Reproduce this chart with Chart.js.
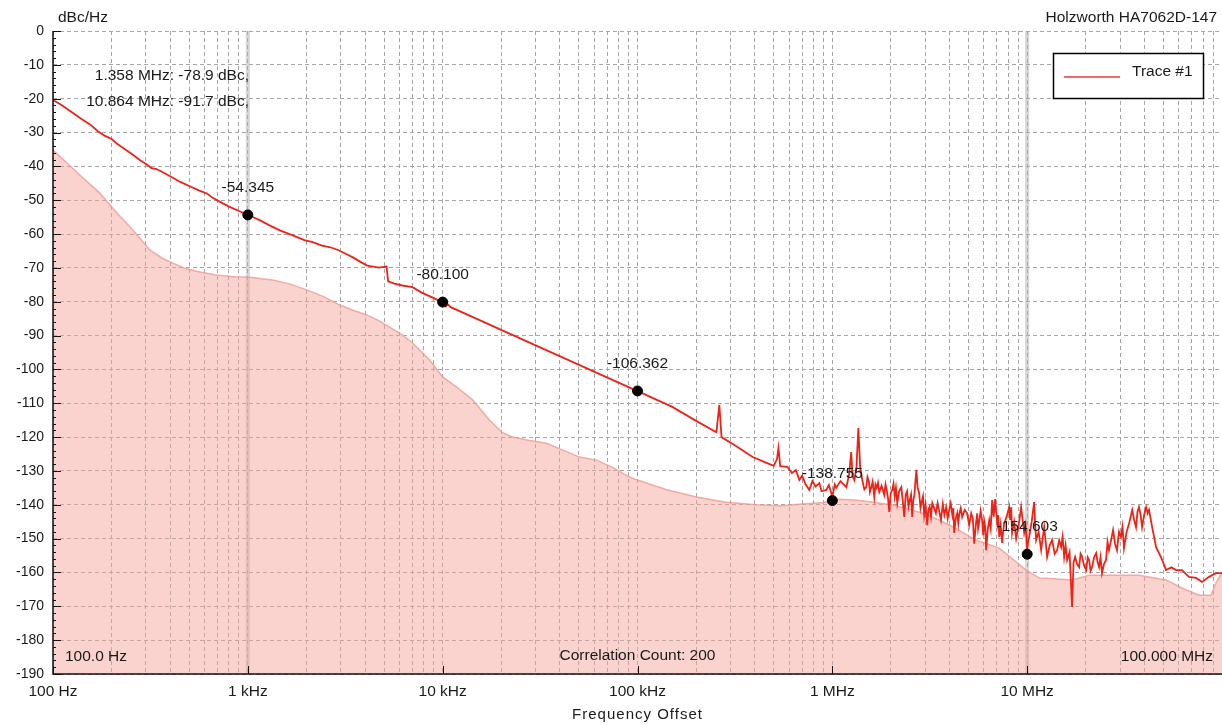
<!DOCTYPE html>
<html>
<head>
<meta charset="utf-8">
<script src="https://cdn.jsdelivr.net/npm/chart.js@4.4.1/dist/chart.umd.min.js"></script>
<style>
html,body{margin:0;padding:0;background:#fff;}
#wrap{width:1222px;height:725px;}
</style>
</head>
<body>
<div id="wrap"><canvas id="c" width="1222" height="725"></canvas></div>
<script>
// ---------- DATA ----------
const xTickValues = [100, 1000, 10000, 100000, 1000000, 10000000];
const xTickLabels = ['100 Hz', '1 kHz', '10 kHz', '100 kHz', '1 MHz', '10 MHz'];

// measured phase-noise trace: [offset Hz, dBc/Hz]
const traceSamples = [
  [100, -20.4], [110, -21.8], [125, -24.0], [140, -26.0], [155, -27.6], [170, -29.6], [185, -31.0], [200, -31.9],
  [215, -33.5], [235, -35.0], [255, -36.4], [280, -38.2], [300, -39.3], [320, -40.5], [340, -40.8], [370, -41.9],
  [410, -43.3], [450, -44.6], [500, -45.8], [560, -47.1], [620, -48.1], [660, -49.3], [720, -50.5], [800, -51.9],
  [900, -53.2], [1000, -54.3], [1150, -55.9], [1300, -57.5], [1460, -58.9], [1700, -60.4], [1950, -61.8], [2150, -62.4],
  [2400, -63.4], [2650, -63.9], [2900, -64.7], [3200, -65.9], [3460, -66.9], [3800, -68.3], [4100, -69.3], [4400, -69.6],
  [4700, -69.9], [5150, -69.6], [5250, -74.0], [5600, -74.6], [6200, -75.2], [7000, -75.7], [7800, -77.3], [8900, -78.8],
  [9500, -79.6], [10000, -80.1], [10400, -81.4], [10600, -80.7], [11000, -81.6], [30000, -92.9], [100000, -106.4], [150000, -111.0],
  [200000, -115.2], [254000, -118.6], [263000, -110.5], [270000, -120.0], [320000, -122.6], [390000, -125.9], [450000, -127.4], [500000, -128.5],
  [520000, -126.5], [529000, -123.2], [540000, -128.6], [588000, -128.8], [620000, -130.6], [650000, -129.8], [677000, -132.7], [700000, -131.4],
  [730000, -134.0], [762000, -135.6], [790000, -133.0], [820000, -134.6], [858000, -133.6], [880000, -136.0], [932000, -135.6], [960000, -134.2],
  [1000000, -137.5], [1030000, -134.0], [1048000, -135.0], [1100000, -133.0], [1180000, -134.8], [1220000, -131.0], [1250000, -124.4], [1270000, -131.5],
  [1297000, -132.7], [1330000, -129.0], [1360000, -117.3], [1390000, -129.0], [1425000, -132.7], [1460000, -135.5], [1494000, -134.8], [1515000, -131.8],
  [1540000, -133.0], [1560000, -136.2], [1585000, -134.8], [1610000, -133.2], [1642000, -137.7], [1665000, -134.0], [1690000, -135.0], [1715000, -133.5],
  [1742000, -136.2], [1790000, -134.4], [1848000, -137.1], [1875000, -134.0], [1900000, -135.5], [1930000, -138.0], [1960000, -142.1], [1995000, -136.5],
  [2030000, -135.6], [2060000, -133.8], [2090000, -137.5], [2120000, -135.0], [2154000, -139.5], [2200000, -136.0], [2260000, -134.8], [2300000, -139.0],
  [2340000, -143.6], [2380000, -137.0], [2420000, -136.0], [2460000, -140.5], [2500000, -138.5], [2535000, -137.0], [2570000, -143.6], [2605000, -138.5],
  [2640000, -137.0], [2670000, -133.0], [2700000, -129.7], [2740000, -135.0], [2790000, -136.5], [2835000, -141.0], [2880000, -139.0], [2920000, -137.5],
  [2960000, -143.0], [3010000, -140.0], [3070000, -146.0], [3110000, -141.5], [3160000, -140.5], [3210000, -143.5], [3260000, -139.5], [3330000, -141.0],
  [3400000, -142.5], [3470000, -139.5], [3540000, -142.0], [3610000, -144.5], [3690000, -139.8], [3760000, -143.0], [3840000, -140.7], [3910000, -144.0],
  [3980000, -141.5], [4050000, -139.5], [4130000, -143.0], [4180000, -141.0], [4220000, -148.3], [4300000, -144.0], [4375000, -142.5], [4430000, -145.5],
  [4480000, -142.8], [4560000, -141.0], [4640000, -143.6], [4780000, -141.5], [4920000, -142.5], [5040000, -146.0], [5160000, -142.5], [5260000, -144.0],
  [5350000, -151.5], [5450000, -146.0], [5540000, -142.5], [5600000, -147.0], [5670000, -145.1], [5770000, -141.8], [5870000, -144.5], [5950000, -149.0],
  [6020000, -144.8], [6090000, -146.5], [6160000, -153.4], [6270000, -147.5], [6390000, -144.5], [6500000, -147.0], [6610000, -138.6], [6730000, -143.5],
  [6850000, -138.3], [6930000, -142.0], [7020000, -145.4], [7100000, -143.0], [7190000, -149.5], [7310000, -146.0], [7440000, -151.3], [7530000, -148.0],
  [7620000, -145.5], [7850000, -143.5], [8080000, -140.7], [8180000, -144.5], [8280000, -140.7], [8370000, -148.3], [8570000, -145.0], [8780000, -150.0],
  [9050000, -146.0], [9310000, -140.7], [9480000, -144.5], [9650000, -148.3], [9820000, -146.0], [10000000, -153.4], [10120000, -150.8], [10240000, -149.5],
  [10550000, -145.0], [10860000, -139.2], [11000000, -146.0], [11120000, -150.4], [11450000, -148.0], [11800000, -153.4], [12000000, -150.0], [12230000, -146.6],
  [12450000, -151.0], [12660000, -155.4], [13050000, -152.0], [13430000, -150.4], [13850000, -154.5], [14250000, -153.4], [14600000, -150.5], [14940000, -152.5],
  [15200000, -149.5], [15480000, -155.4], [15750000, -152.0], [16040000, -156.3], [16500000, -154.0], [17000000, -170.2], [17300000, -157.0], [17630000, -155.4],
  [18050000, -157.5], [18480000, -158.4], [18800000, -154.5], [19150000, -155.4], [19600000, -158.0], [20100000, -159.3], [20450000, -155.5], [20800000, -156.3],
  [21150000, -159.5], [21540000, -158.4], [22050000, -155.5], [22600000, -154.3], [23000000, -157.0], [23400000, -158.4], [23800000, -155.5], [24200000, -160.2],
  [24800000, -157.5], [25400000, -156.3], [25850000, -151.0], [26300000, -153.4], [26950000, -150.5], [27600000, -147.5], [28250000, -151.5], [28900000, -153.4],
  [29600000, -148.0], [30300000, -149.5], [30850000, -146.5], [31400000, -152.8], [32400000, -148.0], [33400000, -145.4], [34000000, -143.5], [34600000, -141.5],
  [35400000, -144.5], [36200000, -146.6], [36850000, -142.0], [37500000, -140.7], [38200000, -143.0], [38900000, -146.6], [39850000, -143.0], [40800000, -140.7],
  [41500000, -142.5], [42200000, -141.5], [43000000, -144.0], [43800000, -146.6], [45900000, -152.5], [47500000, -154.3], [49500000, -156.5], [51600000, -159.3],
  [55000000, -158.5], [58100000, -159.3], [62300000, -159.3], [67700000, -161.3], [73600000, -161.6], [79000000, -162.8], [85800000, -161.3], [93100000, -160.2],
  [100000000, -160.2]
];

// cross-correlation floor: [offset Hz, dBc/Hz]
const floorSamples = [
  [100, -35.2], [118, -39.0], [140, -43.0], [174, -47.9], [213, -53.8], [257, -58.8], [314, -64.7], [360, -67.0],
  [412, -68.6], [480, -70.2], [567, -71.2], [693, -72.1], [850, -72.6], [1000, -72.7], [1343, -73.6], [1650, -74.8],
  [2007, -76.5], [2450, -78.5], [2965, -81.0], [3500, -82.6], [4076, -83.9], [4700, -85.6], [5347, -87.5], [6200, -89.8],
  [7018, -92.2], [8577, -97.2], [10000, -102.2], [11800, -105.2], [14250, -109.0], [17420, -115.0], [20310, -118.7], [22900, -120.0],
  [28000, -121.0], [34100, -121.8], [42000, -124.0], [50400, -125.9], [61600, -126.8], [75000, -129.0], [91000, -131.8], [100000, -132.7],
  [140000, -135.5], [200700, -137.7], [280000, -139.2], [403000, -140.0], [550000, -140.3], [700000, -139.8], [900000, -139.3], [1086000, -138.4],
  [1300000, -138.6], [1600000, -139.2], [2000000, -140.0], [2390000, -141.0], [2900000, -142.5], [3540000, -144.5], [4300000, -147.0], [5500000, -150.5],
  [7190000, -152.8], [8400000, -156.0], [9880000, -159.3], [11520000, -161.6], [12970000, -161.8], [17000000, -162.2], [20800000, -160.8], [28600000, -160.8],
  [37500000, -160.8], [51600000, -162.2], [62300000, -164.6], [76200000, -166.7], [87900000, -166.7], [93100000, -163.1], [98800000, -160.5], [100000000, -160.0]
];

const markerFreq = [1000, 10000, 100000, 1000000, 10000000];
const markerDb = [-54.345, -80.100, -106.362, -138.755, -154.603];
const markerLineFreq = [1000, 10000000];

const spurNotes = ['1.358 MHz: -78.9 dBc,', '10.864 MHz: -91.7 dBc,'];
const unitLabel = 'dBc/Hz';
const deviceLabel = 'Holzworth HA7062D-147';
const startLabel = '100.0 Hz';
const countLabel = 'Correlation Count: 200';
const stopLabel = '100.000 MHz';
const legendLabel = 'Trace #1';
const xTitle = 'Frequency Offset';

// ---------- CHART ----------
const FONT = '"Liberation Sans", Arial, Helvetica, sans-serif';
Chart.defaults.font.family = FONT;
Chart.defaults.font.size = 15.5;
Chart.defaults.color = '#1a1a1a';

const GRID = '#a6a6a6';

const overlay = {
  id: 'overlay',
  beforeDatasetsDraw(chart) {
    const {ctx, chartArea: a, scales: {x}} = chart;
    ctx.save();
    ctx.strokeStyle = 'rgba(175,175,175,0.5)';
    ctx.lineWidth = 4;
    markerLineFreq.forEach(f => {
      const px = x.getPixelForValue(f);
      ctx.beginPath(); ctx.moveTo(px, a.top); ctx.lineTo(px, a.bottom); ctx.stroke();
    });
    ctx.restore();
  },
  afterDatasetsDraw(chart) {
    const {ctx, chartArea: a, scales: {x, y}} = chart;
    ctx.save();
    // axis lines
    ctx.strokeStyle = '#111';
    ctx.lineWidth = 1.5;
    ctx.beginPath();
    ctx.moveTo(a.left, a.top); ctx.lineTo(a.left, a.bottom); ctx.lineTo(a.right, a.bottom);
    ctx.stroke();
    // y ticks (inward)
    ctx.lineWidth = 1;
    for (let v = y.min; v <= y.max; v += 2) {
      const py = Math.round(y.getPixelForValue(v)) + 0.5;
      const len = (v % 10 === 0) ? 8 : 3;
      ctx.beginPath(); ctx.moveTo(a.left, py); ctx.lineTo(a.left + len, py); ctx.stroke();
    }
    // x major ticks (inward)
    xTickValues.forEach(v => {
      const px = Math.round(x.getPixelForValue(v)) + 0.5;
      ctx.beginPath(); ctx.moveTo(px, a.bottom); ctx.lineTo(px, a.bottom - 8); ctx.stroke();
    });

    ctx.font = '15.5px ' + FONT;
    ctx.fillStyle = '#1a1a1a';
    ctx.textBaseline = 'middle';

    // marker labels
    const meta = chart.getDatasetMeta(2);
    ctx.textAlign = 'center';
    meta.data.forEach((pt, i) => {
      ctx.fillText(markerDb[i].toFixed(3), pt.x, pt.y - 27);
    });

    // spur notes
    ctx.textAlign = 'right';
    ctx.fillText(spurNotes[0], a.left + 196, a.top + 45);
    ctx.fillText(spurNotes[1], a.left + 196, a.top + 71);

    // header texts
    ctx.textAlign = 'left';
    ctx.fillText(unitLabel, a.left + 5, 18);
    ctx.textAlign = 'right';
    ctx.fillText(deviceLabel, 1217, 18);

    // bottom in-plot texts
    ctx.textAlign = 'left';
    ctx.fillText(startLabel, a.left + 12, a.bottom - 17);
    ctx.textAlign = 'center';
    ctx.fillText(countLabel, (a.left + a.right) / 2, a.bottom - 18);
    ctx.textAlign = 'right';
    ctx.fillText(stopLabel, a.right - 9, a.bottom - 17);

    // axis title (letter-spaced)
    ctx.font = '15px ' + FONT;
    ctx.textAlign = 'center';
    if ('letterSpacing' in ctx) ctx.letterSpacing = '1px';
    ctx.fillText(xTitle, (a.left + a.right) / 2, 715);
    if ('letterSpacing' in ctx) ctx.letterSpacing = '0px';

    // legend box
    ctx.font = '15.5px ' + FONT;
    ctx.fillStyle = '#fff';
    ctx.fillRect(1053, 53, 151, 46);
    ctx.strokeStyle = '#000';
    ctx.lineWidth = 1.5;
    ctx.strokeRect(1053.5, 53.5, 150, 45);
    ctx.strokeStyle = '#f06a6a';
    ctx.lineWidth = 2;
    ctx.beginPath(); ctx.moveTo(1064, 77); ctx.lineTo(1120, 77); ctx.stroke();
    ctx.fillStyle = '#1a1a1a';
    ctx.textAlign = 'left';
    ctx.fillText(legendLabel, 1132, 72);
    ctx.restore();
  }
};

new Chart(document.getElementById('c'), {
  type: 'line',
  data: {
    datasets: [
      {
        label: 'Correlation floor',
        data: floorSamples.map(p => ({x: p[0], y: p[1]})),
        borderColor: 'rgba(240,150,140,0.75)',
        borderWidth: 1.5,
        backgroundColor: 'rgba(244,160,152,0.48)',
        fill: 'start',
        pointRadius: 0,
        tension: 0,
        order: 3
      },
      {
        label: legendLabel,
        data: traceSamples.map(p => ({x: p[0], y: p[1]})),
        borderColor: '#ec2418',
        borderWidth: 1.8,
        fill: false,
        pointRadius: 0,
        tension: 0,
        order: 2
      },
      {
        label: 'Markers',
        data: markerFreq.map((f, i) => ({x: f, y: markerDb[i]})),
        showLine: false,
        pointRadius: 5,
        pointBorderWidth: 1,
        pointBackgroundColor: '#000',
        pointBorderColor: '#000',
        order: 1
      }
    ]
  },
  options: {
    responsive: false,
    animation: false,
    devicePixelRatio: 1,
    layout: {autoPadding: false, padding: {top: 31, right: 0, left: 0, bottom: 0}},
    plugins: {legend: {display: false}, tooltip: {enabled: false}},
    scales: {
      x: {
        type: 'logarithmic',
        min: 100,
        max: 100000000,
        afterBuildTicks(s) {
          const t = [];
          for (let e = 2; e < 8; e++) for (let m = 1; m < 10; m++) t.push({value: m * Math.pow(10, e)});
          t.push({value: 100000000});
          s.ticks = t;
        },
        ticks: {
          autoSkip: false,
          maxRotation: 0,
          padding: 8,
          color: '#1a1a1a',
          font: {size: 15.5},
          callback(v) { const i = xTickValues.indexOf(v); return i >= 0 ? xTickLabels[i] : ''; }
        },
        grid: {color: GRID, lineWidth: 1, drawTicks: false},
        border: {display: false, dash: [4, 3]},
        title: {display: false},
        afterFit(s) { s.height = 51; s.paddingRight = 0; s.paddingLeft = 0; }
      },
      y: {
        min: -190,
        max: 0,
        ticks: {stepSize: 10, padding: 9, autoSkip: false, color: '#1a1a1a', font: {size: 14}},
        grid: {color: GRID, lineWidth: 1, drawTicks: false},
        border: {display: false, dash: [4, 3]},
        afterFit(s) { s.width = 53; s.paddingTop = 0; s.paddingBottom = 0; }
      }
    }
  },
  plugins: [overlay]
});
</script>
</body>
</html>
